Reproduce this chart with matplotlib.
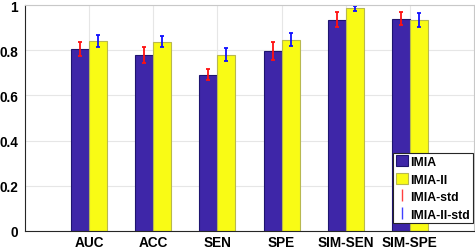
import matplotlib.pyplot as plt
from matplotlib.lines import Line2D
import numpy as np

categories = ["AUC", "ACC", "SEN", "SPE", "SIM-SEN", "SIM-SPE"]
imia = [0.805, 0.780, 0.692, 0.797, 0.935, 0.940]
imia_ii = [0.840, 0.837, 0.780, 0.847, 0.985, 0.935]
imia_std = [0.030, 0.035, 0.025, 0.040, 0.033, 0.030]
imia_ii_std = [0.028, 0.025, 0.028, 0.027, 0.010, 0.031]

plt.rcParams['font.family'] = ['Liberation Sans', 'DejaVu Sans']
plt.rcParams['font.weight'] = 'bold'

fig = plt.figure(figsize=(4.75, 2.51), dpi=100)
ax = fig.add_axes([25/475, 1 - 232/251, 449/475, 226/251])

x = np.arange(1, len(categories) + 1)
w = 0.28
blue = '#3E26A8'
yellow = '#F9FB15'

ax.set_axisbelow(True)
ax.grid(True, color='#e6e6e6', linewidth=0.8)

b1 = ax.bar(x - w/2, imia, w, color=blue, edgecolor='#1e1470', linewidth=0.8, label='IMIA')
b2 = ax.bar(x + w/2, imia_ii, w, color=yellow, edgecolor='#b8b850', linewidth=0.8, label='IMIA-II')
ax.errorbar(x - w/2, imia, yerr=imia_std, fmt='none', ecolor='#ff1010', elinewidth=1.3, capsize=1.2, capthick=1.3)
ax.errorbar(x + w/2, imia_ii, yerr=imia_ii_std, fmt='none', ecolor='#1010ff', elinewidth=1.3, capsize=1.2, capthick=1.3)

ax.set_xlim(0, 7)
ax.set_ylim(0, 1)
ax.set_xticks(x)
ax.set_xticklabels(categories)
ax.set_yticks([0, 0.2, 0.4, 0.6, 0.8, 1])
ax.set_yticklabels(['0', '0.2', '0.4', '0.6', '0.8', '1'])
ax.tick_params(labelsize=9.8, length=0)
ax.tick_params(axis='x', pad=3)
ax.tick_params(axis='y', pad=5)
for lab in ax.get_xticklabels() + ax.get_yticklabels():
    lab.set_fontweight('bold')
for s in ax.spines.values():
    s.set_color('#c8c8c8')
    s.set_linewidth(0.8)
ax.spines['left'].set_color('#262626')
ax.spines['bottom'].set_color('#262626')

handles = [b1, b2,
           Line2D([], [], color='#ff4040', marker='|', linestyle='none', markersize=8, markeredgewidth=1.0),
           Line2D([], [], color='#4040ff', marker='|', linestyle='none', markersize=8, markeredgewidth=1.0)]
labels = ['IMIA', 'IMIA-II', 'IMIA-std', 'IMIA-II-std']
leg = ax.legend(handles, labels, loc='lower right', bbox_to_anchor=(0.997, 0.035),
                prop={'weight': 'bold', 'size': 8.8}, frameon=True, fancybox=False,
                edgecolor='#262626', framealpha=1, handlelength=1.0, handleheight=1.0,
                handletextpad=0.2, borderpad=0.2, labelspacing=0.4, borderaxespad=0)
leg.get_frame().set_linewidth(0.8)

plt.savefig("out.png", dpi=100)
